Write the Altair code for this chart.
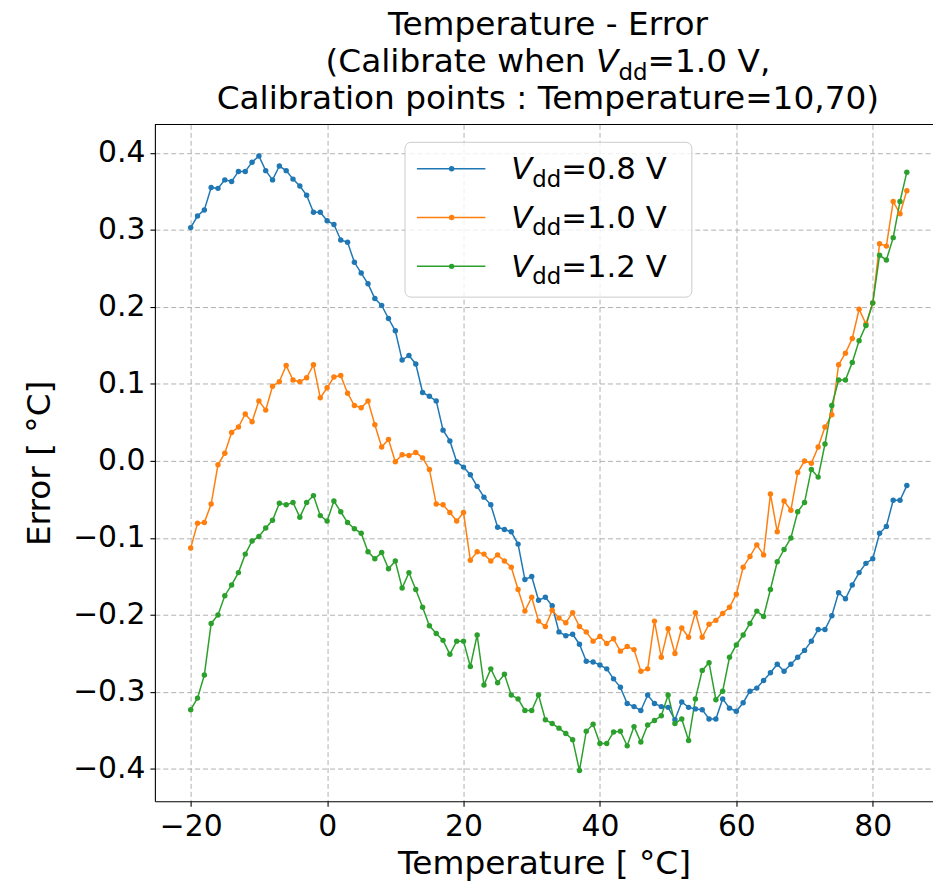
import altair as alt
import pandas as pd

# ---------------- data ----------------
temps = list(range(-20, 86))

err_08 = [0.303, 0.318, 0.326, 0.355, 0.354, 0.365, 0.363, 0.376, 0.376, 0.388,
          0.396, 0.377, 0.365, 0.383, 0.377, 0.366, 0.357, 0.345, 0.323, 0.323,
          0.312, 0.307, 0.287, 0.284, 0.258, 0.244, 0.230, 0.211, 0.202, 0.185,
          0.169, 0.131, 0.137, 0.126, 0.089, 0.084, 0.078, 0.040, 0.026, -0.001,
          -0.008, -0.018, -0.033, -0.047, -0.057, -0.086, -0.089, -0.092, -0.108, -0.154,
          -0.150, -0.181, -0.177, -0.188, -0.222, -0.227, -0.225, -0.238, -0.260, -0.261,
          -0.265, -0.270, -0.283, -0.294, -0.315, -0.319, -0.324, -0.304, -0.315, -0.319,
          -0.320, -0.336, -0.313, -0.320, -0.322, -0.323, -0.335, -0.335, -0.309, -0.321,
          -0.325, -0.314, -0.299, -0.295, -0.285, -0.275, -0.264, -0.273, -0.264, -0.255,
          -0.246, -0.234, -0.219, -0.219, -0.201, -0.171, -0.179, -0.161, -0.145, -0.133,
          -0.127, -0.094, -0.085, -0.051, -0.051, -0.032]

err_10 = [-0.113, -0.081, -0.080, -0.056, -0.005, 0.010, 0.037, 0.044, 0.061, 0.051,
          0.078, 0.066, 0.097, 0.103, 0.124, 0.105, 0.103, 0.108, 0.125, 0.082,
          0.095, 0.109, 0.111, 0.088, 0.072, 0.069, 0.078, 0.047, 0.018, 0.028,
          -0.001, 0.008, 0.007, 0.011, 0.004, -0.011, -0.056, -0.057, -0.067, -0.078,
          -0.067, -0.129, -0.118, -0.121, -0.130, -0.122, -0.130, -0.138, -0.167, -0.195,
          -0.177, -0.208, -0.215, -0.194, -0.204, -0.210, -0.197, -0.215, -0.222, -0.234,
          -0.228, -0.237, -0.231, -0.247, -0.241, -0.245, -0.273, -0.270, -0.208, -0.255,
          -0.218, -0.250, -0.217, -0.229, -0.197, -0.229, -0.212, -0.207, -0.198, -0.190,
          -0.173, -0.138, -0.124, -0.109, -0.122, -0.043, -0.092, -0.052, -0.064, -0.015,
          0.000, -0.003, 0.018, 0.044, 0.060, 0.125, 0.140, 0.159, 0.197, 0.178,
          0.205, 0.282, 0.279, 0.337, 0.321, 0.351]

err_12 = [-0.323, -0.308, -0.278, -0.211, -0.200, -0.175, -0.161, -0.145, -0.121, -0.104,
          -0.098, -0.087, -0.077, -0.055, -0.057, -0.054, -0.073, -0.054, -0.045, -0.071,
          -0.078, -0.052, -0.066, -0.080, -0.088, -0.094, -0.118, -0.127, -0.119, -0.140,
          -0.130, -0.165, -0.145, -0.167, -0.190, -0.214, -0.224, -0.233, -0.251, -0.234,
          -0.234, -0.267, -0.226, -0.291, -0.270, -0.288, -0.277, -0.304, -0.309, -0.324,
          -0.324, -0.304, -0.336, -0.341, -0.347, -0.354, -0.362, -0.402, -0.351, -0.342,
          -0.367, -0.367, -0.352, -0.351, -0.370, -0.345, -0.365, -0.343, -0.337, -0.331,
          -0.304, -0.341, -0.335, -0.363, -0.309, -0.272, -0.262, -0.310, -0.299, -0.255,
          -0.239, -0.226, -0.211, -0.195, -0.202, -0.167, -0.131, -0.115, -0.100, -0.066,
          -0.054, -0.011, -0.021, 0.022, 0.072, 0.105, 0.105, 0.128, 0.156, 0.176,
          0.205, 0.267, 0.261, 0.290, 0.337, 0.375]

series_names = ["Vdd=0.8 V", "Vdd=1.0 V", "Vdd=1.2 V"]
legend_values = ["=0.8 V", "=1.0 V", "=1.2 V"]
series_colors = ["#1f77b4", "#ff7f0e", "#2ca02c"]
x_ticks = [-20, 0, 20, 40, 60, 80]
y_ticks = [-0.4, -0.3, -0.2, -0.1, 0.0, 0.1, 0.2, 0.3, 0.4]

title_line1 = "Temperature - Error"
title_line2a = "(Calibrate when "
title_line2b = "=1.0 V,"
title_line3 = "Calibration points : Temperature=10,70)"
x_title = "Temperature [ °C]"
y_title = "Error [ °C]"

# ---------------- layout helpers ----------------
FONT = "DejaVu Sans"
ADV = {'(': 799, ')': 799, 'C': 1430, 'a': 1255, 'l': 569, 'i': 569, 'b': 1300,
       'r': 842, 't': 803, 'e': 1260, ' ': 651, 'w': 1675, 'h': 1298, 'n': 1298,
       'V': 1401, 'd': 1300, '=': 1716, '1': 1303, '0': 1303, '.': 651, ',': 651,
       '2': 1303, '8': 1303}


def tw(s, size):
    return sum(ADV.get(c, 1250) for c in s) / 2048.0 * size


W, H = 784, 682
PX_PER_UNIT = 6.872
x_domain = [-25.25, -25.25 + W / PX_PER_UNIT]
y_domain = [-0.442, 0.437]

rows = []
for name, vals in zip(series_names, [err_08, err_10, err_12]):
    for t, v in zip(temps, vals):
        rows.append({"Temperature": t, "Error": v, "series": name})
df = pd.DataFrame(rows)

color = alt.Color("series:N", scale=alt.Scale(domain=series_names, range=series_colors), legend=None)

x_enc = alt.X("Temperature:Q",
              scale=alt.Scale(domain=x_domain, nice=False, zero=False),
              axis=alt.Axis(values=x_ticks, format="d", title=x_title,
                            titleX=W / 2, titleY=73, titleBaseline="alphabetic",
                            titleAlign="center", titleAnchor="middle"))
y_enc = alt.Y("Error:Q",
              scale=alt.Scale(domain=y_domain, nice=False, zero=False),
              axis=alt.Axis(values=y_ticks, format=".1f", title=y_title,
                            titleX=-106, titleY=H / 2, titleAngle=-90,
                            titleBaseline="alphabetic", titleAlign="center",
                            titleAnchor="middle"))

base = alt.Chart(df).encode(x=x_enc, y=y_enc, color=color, order="Temperature:Q")
lines = base.mark_line(strokeWidth=1.5)
points = base.mark_circle(size=30, opacity=1)

one = pd.DataFrame({"k": [0]})

top_spine = alt.Chart(one).mark_rule(color="black", strokeWidth=1.1).encode(
    x=alt.value(0), x2=alt.value(W), y=alt.value(0))

# ---------------- title (text marks, with V_dd subscript) ----------------
TF = 33
SUB = 0.7 * TF
title_cx = 396
layers = []
layers.append(alt.Chart(one).mark_text(text=title_line1, font=FONT, fontSize=TF, align="center",
                                       baseline="alphabetic", color="black").encode(
    x=alt.value(title_cx), y=alt.value(-90)))
layers.append(alt.Chart(one).mark_text(text=title_line3, font=FONT, fontSize=TF, align="center",
                                       baseline="alphabetic", color="black").encode(
    x=alt.value(title_cx), y=alt.value(-16)))
w1 = tw(title_line2a, TF)
wv = tw("V", TF)
wd = tw("dd", SUB)
w3 = tw(title_line2b, TF)
start = title_cx - (w1 + wv + wd + w3) / 2
L2Y = -53
layers.append(alt.Chart(one).mark_text(text=title_line2a, font=FONT, fontSize=TF, align="left",
                                       baseline="alphabetic", color="black").encode(
    x=alt.value(start), y=alt.value(L2Y)))
layers.append(alt.Chart(one).mark_text(text="V", font=FONT, fontSize=TF, fontStyle="italic", align="left",
                                       baseline="alphabetic", color="black").encode(
    x=alt.value(start + w1), y=alt.value(L2Y)))
layers.append(alt.Chart(one).mark_text(text="dd", font=FONT, fontSize=SUB, align="left",
                                       baseline="alphabetic", color="black").encode(
    x=alt.value(start + w1 + wv), y=alt.value(L2Y + 8)))
layers.append(alt.Chart(one).mark_text(text=title_line2b, font=FONT, fontSize=TF, align="left",
                                       baseline="alphabetic", color="black").encode(
    x=alt.value(start + w1 + wv + wd), y=alt.value(L2Y)))

# ---------------- custom legend ----------------
LF = 31
LSUB = 23
legend_box = alt.Chart(one).mark_rect(cornerRadius=6, fill="white", fillOpacity=0.8,
                                      stroke="#cccccc", strokeWidth=1).encode(
    x=alt.value(252), x2=alt.value(541), y=alt.value(18), y2=alt.value(174))
layers.append(legend_box)
row_mid = [44.7, 93.7, 143.0]
for i in range(3):
    ym = row_mid[i]
    yb = ym + 10.6
    layers.append(alt.Chart(one).mark_rule(color=series_colors[i], strokeWidth=1.5).encode(
        x=alt.value(264), x2=alt.value(333), y=alt.value(ym)))
    layers.append(alt.Chart(one).mark_circle(color=series_colors[i], size=30, opacity=1).encode(
        x=alt.value(299), y=alt.value(ym)))
    layers.append(alt.Chart(one).mark_text(text="V", font=FONT, fontSize=LF, fontStyle="italic",
                                           align="left", baseline="alphabetic", color="black").encode(
        x=alt.value(359), y=alt.value(yb)))
    vx = 359 + tw("V", LF)
    layers.append(alt.Chart(one).mark_text(text="dd", font=FONT, fontSize=LSUB,
                                           align="left", baseline="alphabetic", color="black").encode(
        x=alt.value(vx), y=alt.value(yb + 7.5)))
    layers.append(alt.Chart(one).mark_text(text=legend_values[i], font=FONT, fontSize=LF,
                                           align="left", baseline="alphabetic", color="black").encode(
        x=alt.value(vx + tw("dd", LSUB)), y=alt.value(yb)))

chart = alt.layer(lines, points, top_spine, *layers).properties(
    width=W, height=H,
    autosize=alt.AutoSizeParams(type="none"),
    padding={"left": 148, "top": 114, "right": 0, "bottom": 80},
).configure_view(stroke=None).configure_axis(
    labelFont=FONT, titleFont=FONT, labelFontSize=30, titleFontSize=33,
    labelColor="black", titleColor="black", titleFontWeight="normal",
    tickColor="black", tickSize=5, tickWidth=1.1, labelPadding=5,
    domainColor="black", domainWidth=1.1,
    grid=True, gridColor="#b0b0b0", gridDash=[5, 3], gridWidth=1,
)

chart.save("out.html", embed_options={"renderer": "svg", "actions": False})
